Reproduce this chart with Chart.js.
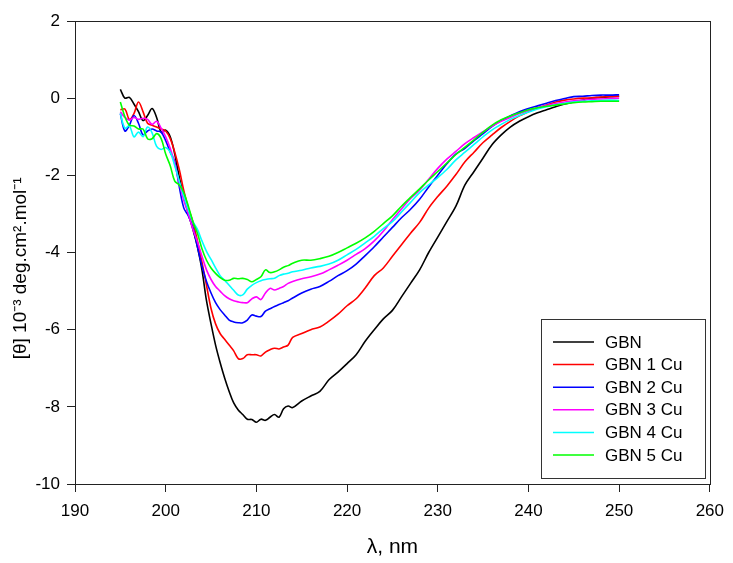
<!DOCTYPE html>
<html>
<head>
<meta charset="utf-8">
<script src="https://cdn.jsdelivr.net/npm/chart.js@4.4.0/dist/chart.umd.min.js"></script>
<style>
  html, body { margin: 0; padding: 0; background: #fff; }
  #wrap { width: 733px; height: 563px; }
</style>
</head>
<body>
<div id="wrap"><canvas id="cd" width="733" height="563"></canvas></div>
<script>
// wavelength, nm (0.5 nm up to 214, then 1 nm)
const wavelengths = [
  195, 195.5, 196, 196.5, 197, 197.5, 198, 198.5, 199, 199.5,
  200, 200.5, 201, 201.5, 202, 202.5, 203, 203.5, 204, 204.5,
  205, 205.5, 206, 206.5, 207, 207.5, 208, 208.5, 209, 209.5,
  210, 210.5, 211, 211.5, 212, 212.5, 213, 213.5, 214,
  215, 216, 217, 218, 219, 220, 221, 222, 223, 224,
  225, 226, 227, 228, 229, 230, 231, 232, 233, 234,
  235, 236, 237, 238, 239, 240, 241, 242, 243, 244,
  245, 246, 247, 248, 249, 250
];

const seriesLabels = ['GBN', 'GBN 1 Cu', 'GBN 2 Cu', 'GBN 3 Cu', 'GBN 4 Cu', 'GBN 5 Cu'];
const seriesColors = ['#000000', '#ff0000', '#0000ff', '#ff00ff', '#00ffff', '#00ff00'];

const gbn = [
  0.23, 0.0, 0.02, -0.15, -0.35, -0.58, -0.45, -0.27, -0.5, -0.88,
  -0.83, -1.0, -1.45, -2.05, -2.55, -3.0, -3.4, -3.85, -4.45, -5.25,
  -5.85, -6.4, -6.85, -7.25, -7.6, -7.9, -8.08, -8.2, -8.32, -8.33,
  -8.4, -8.32, -8.35, -8.27, -8.2, -8.27, -8.05, -7.98, -8.02,
  -7.85, -7.72, -7.6, -7.3, -7.1, -6.88, -6.65, -6.3, -6.0, -5.72,
  -5.5, -5.15, -4.8, -4.45, -4.0, -3.6, -3.2, -2.8, -2.25, -1.9,
  -1.55, -1.2, -0.95, -0.75, -0.6, -0.48, -0.38, -0.3, -0.22, -0.15,
  -0.1, -0.05, 0.0, 0.02, 0.04, 0.05
];
const gbn1Cu = [
  -0.3, -0.28, -0.55, -0.4, -0.1, -0.35, -0.65, -0.7, -0.75, -0.8,
  -0.85, -1.05, -1.4, -1.85, -2.4, -2.85, -3.2, -3.7, -4.25, -4.85,
  -5.45, -5.85, -6.1, -6.25, -6.4, -6.55, -6.75, -6.75, -6.65, -6.65,
  -6.65, -6.68, -6.58, -6.52, -6.48, -6.5, -6.45, -6.4, -6.2,
  -6.1, -6.0, -5.93, -5.78, -5.6, -5.38, -5.2, -4.92, -4.6, -4.4,
  -4.1, -3.8, -3.5, -3.22, -2.85, -2.55, -2.28, -1.98, -1.65, -1.4,
  -1.15, -0.95, -0.76, -0.6, -0.46, -0.35, -0.25, -0.18, -0.1, -0.05,
  -0.02, 0.0, 0.01, 0.03, 0.04, 0.05
];
const gbn2Cu = [
  -0.4, -0.85, -0.7, -0.45, -0.65, -0.95, -0.85, -0.8, -0.85, -0.88,
  -1.1, -1.4, -1.65, -2.3, -2.85, -3.05, -3.35, -3.85, -4.35, -4.75,
  -5.05, -5.3, -5.48, -5.62, -5.75, -5.8, -5.82, -5.82, -5.75, -5.62,
  -5.65, -5.66, -5.52, -5.46, -5.4, -5.35, -5.3, -5.25, -5.18,
  -5.05, -4.95, -4.88, -4.75, -4.6, -4.47, -4.3, -4.08, -3.85, -3.6,
  -3.35, -3.1, -2.88, -2.62, -2.3, -2.0, -1.7, -1.45, -1.3, -1.1,
  -0.92, -0.73, -0.58, -0.46, -0.35, -0.27, -0.2, -0.13, -0.06, -0.01,
  0.04, 0.05, 0.07, 0.08, 0.08, 0.09
];
const gbn3Cu = [
  -0.35, -0.5, -0.57, -0.5, -0.55, -0.52, -0.55, -0.68, -0.6, -0.78,
  -1.0, -1.3, -1.7, -2.2, -2.65, -3.0, -3.4, -3.72, -4.1, -4.45,
  -4.7, -4.88, -5.0, -5.12, -5.2, -5.25, -5.28, -5.3, -5.3, -5.2,
  -5.15, -5.22, -5.05, -4.93, -4.97, -4.93, -4.88, -4.8, -4.75,
  -4.68, -4.63, -4.56, -4.45, -4.33, -4.2, -4.05, -3.9, -3.7, -3.45,
  -3.15, -2.87, -2.6, -2.38, -2.1, -1.82, -1.58, -1.38, -1.18, -1.02,
  -0.87, -0.72, -0.6, -0.5, -0.4, -0.32, -0.25, -0.19, -0.14, -0.1,
  -0.07, -0.05, -0.03, -0.02, -0.01, 0.0
];
const gbn4Cu = [
  -0.4, -0.78, -0.72, -1.0, -0.88, -1.0, -0.75, -0.9, -1.25, -1.33,
  -1.28, -1.4, -1.75, -2.15, -2.55, -2.9, -3.2, -3.4, -3.7, -3.97,
  -4.18, -4.4, -4.6, -4.72, -4.85, -4.98, -5.1, -5.1, -4.95, -4.85,
  -4.78, -4.73, -4.7, -4.68, -4.67, -4.6, -4.56, -4.54, -4.5,
  -4.46, -4.4, -4.36, -4.3, -4.2, -4.06, -3.92, -3.75, -3.58, -3.38,
  -3.2, -2.95, -2.7, -2.45, -2.25, -2.06, -1.85, -1.6, -1.4, -1.2,
  -1.0, -0.82, -0.68, -0.55, -0.45, -0.36, -0.28, -0.22, -0.17, -0.13,
  -0.1, -0.08, -0.07, -0.06, -0.05, -0.06
];
const gbn5Cu = [
  -0.1, -0.48, -0.7, -0.72, -0.8, -0.8, -1.05, -1.05, -0.92, -1.05,
  -1.45, -1.75, -2.15, -2.25, -2.45, -2.8, -3.2, -3.5, -3.9, -4.2,
  -4.4, -4.54, -4.65, -4.72, -4.72, -4.67, -4.68, -4.67, -4.7, -4.76,
  -4.7, -4.63, -4.45, -4.52, -4.5, -4.45, -4.38, -4.34, -4.28,
  -4.2, -4.2, -4.16, -4.1, -4.0, -3.88, -3.76, -3.62, -3.45, -3.25,
  -3.05, -2.8, -2.57, -2.35, -2.12, -1.9, -1.68, -1.46, -1.27, -1.08,
  -0.88, -0.7, -0.56, -0.46, -0.38, -0.3, -0.25, -0.21, -0.18, -0.15,
  -0.12, -0.1, -0.09, -0.08, -0.08, -0.08
];
const allSeries = [gbn, gbn1Cu, gbn2Cu, gbn3Cu, gbn4Cu, gbn5Cu];

const FONT = "'Liberation Sans', Arial, sans-serif";

// frame round the plot (top and right edges too)
const frame = {
  id: 'frame',
  afterDraw(chart) {
    const a = chart.chartArea, ctx = chart.ctx;
    ctx.save();
    ctx.strokeStyle = '#222';
    ctx.lineWidth = 1;
    ctx.strokeRect(Math.round(a.left) + 0.5, Math.round(a.top) + 0.5,
                   Math.round(a.right - a.left), Math.round(a.bottom - a.top));
    ctx.restore();
  }
};

// boxed legend in the lower right of the plot
const boxLegend = {
  id: 'boxLegend',
  afterDatasetsDraw(chart) {
    const ctx = chart.ctx;
    const x0 = 541, y0 = 319, w = 164, h = 159;
    const rowH = 22.6, firstRow = 342;
    ctx.save();
    ctx.fillStyle = '#fff';
    ctx.fillRect(x0, y0, w, h);
    ctx.strokeStyle = '#333';
    ctx.lineWidth = 1;
    ctx.strokeRect(x0 + 0.5, y0 + 0.5, w, h);
    ctx.font = '17px ' + FONT;
    ctx.textBaseline = 'middle';
    ctx.fillStyle = '#000';
    chart.data.datasets.forEach((ds, i) => {
      const y = firstRow + i * rowH;
      ctx.strokeStyle = ds.borderColor;
      ctx.lineWidth = 1.5;
      ctx.beginPath();
      ctx.moveTo(553, y);
      ctx.lineTo(594, y);
      ctx.stroke();
      ctx.fillText(ds.label, 605, y + 1);
    });
    ctx.restore();
  }
};

new Chart(document.getElementById('cd').getContext('2d'), {
  type: 'line',
  data: {
    datasets: seriesLabels.map((lab, i) => ({
      label: lab,
      data: wavelengths.map((w, j) => ({ x: w, y: allSeries[i][j] })),
      borderColor: seriesColors[i],
      borderWidth: 1.6,
      pointRadius: 0,
      tension: 0.35,
      fill: false,
      order: seriesLabels.length - i
    }))
  },
  options: {
    responsive: false,
    animation: false,
    devicePixelRatio: 1,
    layout: { padding: { left: 0, top: 21, right: 17, bottom: 0 } },
    plugins: { legend: { display: false }, tooltip: { enabled: false } },
    scales: {
      x: {
        type: 'linear', min: 190, max: 260,
        ticks: { stepSize: 10, color: '#000', padding: 9, font: { family: FONT, size: 17 } },
        grid: { drawOnChartArea: false, tickLength: 8, color: '#222' },
        border: { color: '#222' },
        title: { display: true, text: 'λ, nm', color: '#000', font: { family: FONT, size: 21 }, padding: { top: 0, bottom: 3 } },
        afterFit(scale) { scale.height = 79; }
      },
      y: {
        min: -10, max: 2,
        ticks: { stepSize: 2, color: '#000', padding: 7, font: { family: FONT, size: 17 } },
        grid: { drawOnChartArea: false, tickLength: 8, color: '#222' },
        border: { color: '#222' },
        title: { display: true, text: '[θ] 10⁻³ deg.cm².mol⁻¹      ', color: '#000', font: { family: FONT, size: 19 }, padding: { top: 9, bottom: 0 } },
        afterFit(scale) { scale.width = 75; }
      }
    }
  },
  plugins: [frame, boxLegend]
});
</script>
</body>
</html>
